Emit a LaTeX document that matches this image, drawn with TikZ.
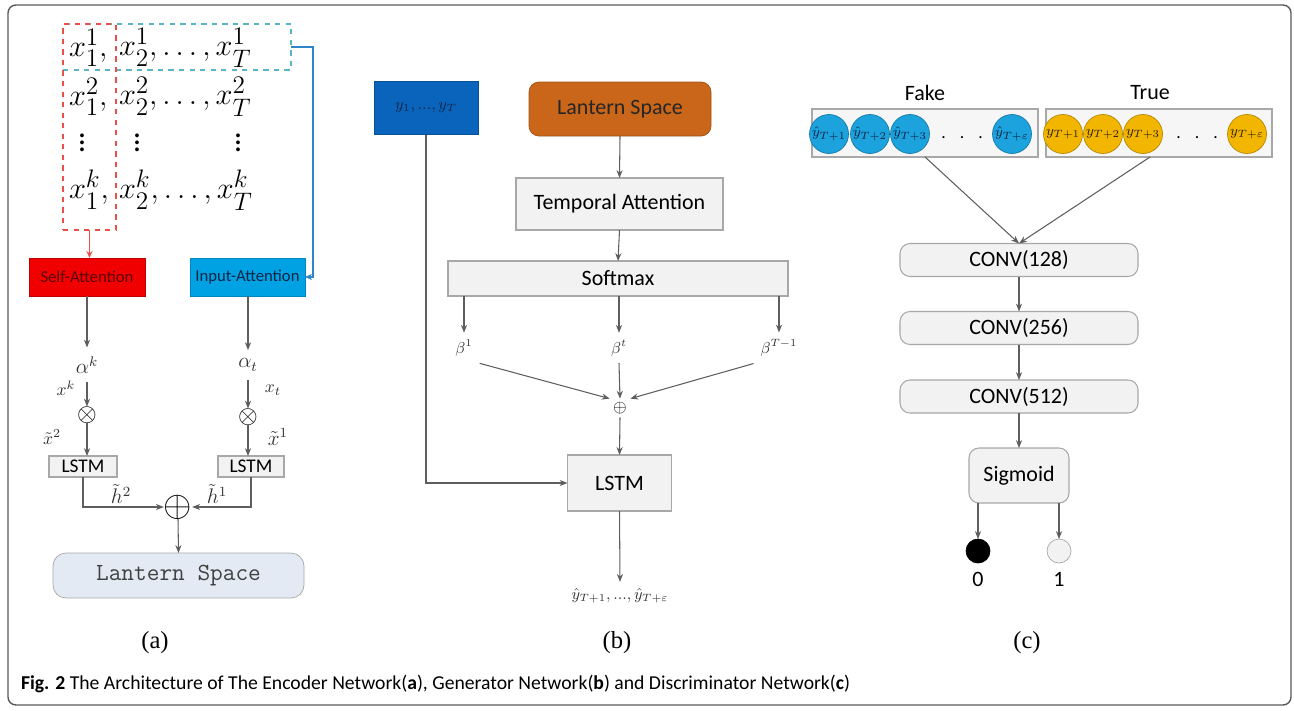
\documentclass[tikz,border=0pt]{standalone}
\usepackage{amsmath}
\usepackage{amssymb}
\usepackage{fontspec}
\setmainfont{Carlito}
\newfontfamily\timesfont{Liberation Serif}
\usepackage{tikz}
\usetikzlibrary{arrows.meta,positioning,fit}
\newlength\pxu \setlength\pxu{0.02cm}
\definecolor{linegray}{HTML}{5E5E5E}
\definecolor{boxgray}{HTML}{A8A8A8}
\definecolor{boxfill}{HTML}{F2F2F2}
\definecolor{selfred}{HTML}{F00000}
\definecolor{selftext}{HTML}{5C0000}
\definecolor{inputcyan}{HTML}{00A2E3}
\definecolor{inputtext}{HTML}{0B2545}
\definecolor{dashteal}{HTML}{5AB6C4}
\definecolor{dashred}{HTML}{E8504A}
\definecolor{arrblue}{HTML}{2E86C8}
\definecolor{yblue}{HTML}{0B64BB}
\definecolor{lantorange}{HTML}{C9661A}
\definecolor{lantblue}{HTML}{E3EAF4}
\definecolor{fakeblue}{HTML}{1CA3DE}
\definecolor{trueyellow}{HTML}{F2B600}
\tikzset{arr/.style={draw=linegray, line width=0.6pt, -{Stealth[length=4.5pt,width=3.5pt]}},
    box/.style={draw=boxgray, fill=boxfill, line width=0.6pt},
    convbox/.style={box, rounded corners=0.2cm, minimum width=238\pxu, minimum height=33\pxu, font=\fontsize{12.5}{14}\selectfont},
    mat/.style={anchor=west, font=\fontsize{19}{21}\selectfont},
    lbl/.style={inner sep=2.5pt, text=black!80},
    fakec/.style={circle, fill=fakeblue, draw=fakeblue!75!black, minimum size=39\pxu, text=inputtext, font=\footnotesize},
    truec/.style={circle, fill=trueyellow, draw=trueyellow!75!black, minimum size=39\pxu, text=black!75!brown, font=\footnotesize}}

\begin{document}
\begin{tikzpicture}[x=0.02cm, y=-0.02cm, every node/.style={inner sep=0pt, outer sep=0pt}]
\useasboundingbox (0,0) rectangle (1294,710);
\draw[draw=black!65, line width=0.8pt, rounded corners=0.16cm] (8,5) rectangle (1291,705);

% (a) input matrix
\node[mat] (r1a) at (69,48) {$x_1^1,$};
\node[mat] (r1b) at (119,48) {$x_2^1,\ldots,x_T^1$};
\node[mat] (r2a) at (69,97) {$x_1^2,$};
\node[mat] (r2b) at (119,97) {$x_2^2,\ldots,x_T^2$};
\node[mat] (rka) at (69,190) {$x_1^k,$};
\node[mat] (rkb) at (119,190) {$x_2^k,\ldots,x_T^k$};
\foreach \x [count=\i] in {82,137,238}
    \node[font=\fontsize{18}{20}\selectfont] (vd\i) at (\x,138) {$\vdots$};
\node[draw=dashteal, dashed, line width=0.8pt, minimum width=228\pxu, minimum height=46\pxu] (inputgrp) at (177,47) {};
\node[draw=dashred, dashed, line width=0.8pt, minimum width=53\pxu, minimum height=206\pxu] (selfgrp) at (89.5,127) {};

% attention
\node[fill=selfred, draw=selfred!80!black, minimum width=116\pxu, minimum height=38\pxu, text=selftext, font=\fontsize{9.5}{11}\selectfont] (selfatt) at (87,277) {Self-Attention};
\node[fill=inputcyan, draw=inputcyan!85!black, minimum width=115\pxu, minimum height=38\pxu, text=inputtext, font=\fontsize{9.5}{11}\selectfont] (inputatt) at (247.5,277) {Input-Attention};
\draw[draw=dashred, line width=0.6pt, -{Stealth[length=4pt,width=3.5pt]}] (selfgrp.south) -- (selfgrp.south |- selfatt.north);
\draw[draw=arrblue, line width=0.7pt, -{Stealth[length=4pt,width=3.5pt]}] (inputgrp.east) -- ++(22,0) |- (inputatt.east);

% left column
\node[lbl, font=\large, inner sep=5pt] (alphak) at (87,365) {$\alpha^k$};
\node[lbl] (xk) at (66,388) {$x^k$};
\node[font=\Large] (otl) at (87,415) {$\otimes$};
\node[lbl] (xt2) at (52,437) {$\tilde{x}^2$};
\node[box, minimum width=68\pxu, minimum height=21\pxu, font=\fontsize{11}{12}\selectfont] (lstml) at (83,466.5) {LSTM};
\draw[arr] (selfatt.south) -- (selfatt.south |- alphak.north);
\draw[arr] (alphak.south) -- (otl.north);
\draw[arr] (otl.south) -- (otl.south |- lstml.north);

% right column
\node[lbl, font=\large, inner sep=5pt] (alphat) at (248,365) {$\alpha_t$};
\node[lbl] (xtt) at (273,390) {$x_t$};
\node[font=\Large] (otr) at (248,417) {$\otimes$};
\node[lbl, font=\large] (xt1) at (278,437) {$\tilde{x}^1$};
\node[box, minimum width=66\pxu, minimum height=21\pxu, font=\fontsize{11}{12}\selectfont] (lstmr) at (251,466.5) {LSTM};
\draw[arr] (inputatt.south -| alphat) -- (alphat.north);
\draw[arr] (alphat.south) -- (otr.north);
\draw[arr] (otr.south) -- (otr.south |- lstmr.north);

% merge
\node[font=\huge] (plusa) at (178,507) {$\oplus$};
\draw[arr] (lstml.south) |- (plusa.west);
\draw[arr] (lstmr.south) |- (plusa.east);
\node[lbl, font=\large] (h2) at (121,494) {$\tilde{h}^2$};
\node[lbl, font=\large] (h1) at (217,494) {$\tilde{h}^1$};
\node[draw=boxgray, fill=lantblue, rounded corners=0.26cm, minimum width=251\pxu, minimum height=45\pxu, font=\ttfamily\fontsize{14}{16}\selectfont, text=black!75] (lanta) at (178.5,575.5) {Lantern Space};
\draw[arr] (plusa.south) -- (lanta.north);
\node[font=\timesfont\fontsize{14}{16}\selectfont] (capa) at (155,643) {(a)};

% (b) generator
\node[fill=yblue, draw=yblue!80!black, minimum width=104\pxu, minimum height=53\pxu, text=inputtext, font=\small] (ybox) at (426,108) {$y_1,{...},y_T$};
\node[fill=lantorange, draw=lantorange!80!black, rounded corners=0.2cm, minimum width=182\pxu, minimum height=54\pxu, font=\fontsize{12.5}{14}\selectfont, text=black!85] (lantb) at (620,109) {Lantern Space};
\node[box, minimum width=207\pxu, minimum height=52\pxu, font=\fontsize{12.5}{14}\selectfont] (temporal) at (619.5,204) {Temporal Attention};
\node[box, minimum width=340\pxu, minimum height=35\pxu, font=\fontsize{12.5}{14}\selectfont] (softmax) at (618,278.5) {Softmax};
\draw[arr] (lantb.south) -- (temporal.north);
\draw[arr] (temporal.south) -- (softmax.north);

\node[lbl, inner sep=4pt, font=\small] (beta1) at (464,348) {$\beta^1$};
\node[lbl, inner sep=4pt, font=\small] (betat) at (619,348) {$\beta^t$};
\node[lbl, inner sep=4pt, font=\small] (betaT) at (779,348) {$\beta^{T-1}$};
\foreach \b in {beta1,betat,betaT}
    \draw[arr] (softmax.south -| \b) -- (\b.north);

\node[font=\normalsize, inner sep=2pt] (plusb) at (620,408) {$\oplus$};
\draw[arr] (beta1.south east) -- (plusb.north west);
\draw[arr] (betat.south) -- (plusb.north);
\draw[arr] (betaT.south west) -- (plusb.north east);

\node[box, minimum width=104\pxu, minimum height=56\pxu, font=\fontsize{12.5}{14}\selectfont] (lstmb) at (619.5,483) {LSTM};
\draw[arr] (plusb.south) -- (lstmb.north);
\draw[arr] (ybox.south) |- (lstmb.west);
\node[lbl, font=\small, inner sep=4pt] (yhat) at (620,596) {$\hat{y}_{T+1},{...},\hat{y}_{T+\varepsilon}$};
\draw[arr] (lstmb.south) -- (yhat.north);
\node[font=\timesfont\fontsize{14}{16}\selectfont] (capb) at (617,643) {(b)};

% (c) discriminator
\node[font=\fontsize{12.5}{14}\selectfont] (fakelbl) at (925,93) {Fake};
\node[font=\fontsize{12.5}{14}\selectfont] (truelbl) at (1150,93) {True};
\node[box, fill=boxfill!70!white, minimum width=226\pxu, minimum height=48\pxu] (fakebox) at (925,133) {};
\node[box, fill=boxfill!70!white, minimum width=226\pxu, minimum height=48\pxu] (truebox) at (1159,133) {};
\node[fakec] (f1) at (829,134) {$\hat{y}_{T+1}$};
\node[fakec] (f2) at (870,134) {$\hat{y}_{T+2}$};
\node[fakec] (f3) at (910,134) {$\hat{y}_{T+3}$};
\node (fd) at (962,138) {.\hspace{8pt}.\hspace{8pt}.};
\node[fakec] (fe) at (1012,134) {$\hat{y}_{T+\varepsilon}$};
\node[truec] (t1) at (1063,134) {$y_{T+1}$};
\node[truec] (t2) at (1103,134) {$y_{T+2}$};
\node[truec] (t3) at (1143,134) {$y_{T+3}$};
\node (td) at (1197,138) {.\hspace{8pt}.\hspace{8pt}.};
\node[truec] (te) at (1247,134) {$y_{T+\varepsilon}$};

\node[convbox] (conv1) at (1019,260) {CONV(128)};
\node[convbox] (conv2) at (1019,328) {CONV(256)};
\node[convbox] (conv3) at (1019,396.5) {CONV(512)};
\node[box, rounded corners=0.2cm, minimum width=100\pxu, minimum height=55\pxu, font=\fontsize{12.5}{14}\selectfont] (sigm) at (1019,475.5) {Sigmoid};
\draw[arr] (fakebox.south) -- (conv1.north);
\draw[arr] (truelbl |- truebox.south) -- (conv1.north);
\draw[arr] (conv1) -- (conv2);
\draw[arr] (conv2) -- (conv3);
\draw[arr] (conv3) -- (sigm);

\node[circle, fill=black, draw=black, minimum size=24\pxu] (out0) at (978,551) {};
\node[circle, fill=boxfill, draw=boxgray, minimum size=24\pxu] (out1) at (1059,551) {};
\draw[arr] (sigm.south -| out0) -- (out0.north);
\draw[arr] (sigm.south -| out1) -- (out1.north);
\node[font=\fontsize{12.5}{14}\selectfont] (zero) at (978,579) {0};
\node[font=\fontsize{12.5}{14}\selectfont] (one) at (1059,579) {1};
\node[font=\timesfont\fontsize{14}{16}\selectfont] (capc) at (1027,643) {(c)};

% caption
\node[anchor=west, font=\fontsize{11.2}{13}\selectfont] (caption) at (21,684) {\textbf{Fig. 2} The Architecture of The Encoder Network(\textbf{a}), Generator Network(\textbf{b}) and Discriminator Network(\textbf{c})};
\end{tikzpicture}
\end{document}
